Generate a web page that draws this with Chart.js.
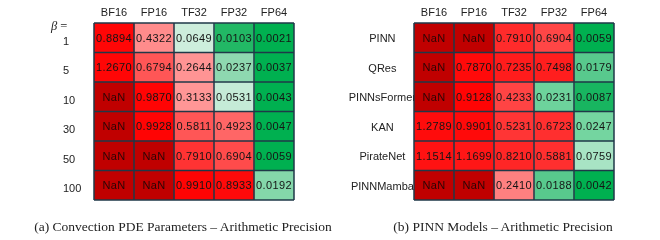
<!DOCTYPE html>
<html><head><meta charset="utf-8">
<script src="https://cdn.jsdelivr.net/npm/chart.js@4.4.0/dist/chart.umd.min.js"></script>
<style>
html,body{margin:0;padding:0;background:#fff;width:660px;height:240px;overflow:hidden}
#wrap{position:relative;width:660px;height:240px}
.panel{position:absolute;top:0;width:330px;height:240px}
.cap{position:absolute;top:218px;font-family:"Liberation Serif","Times New Roman",serif;font-size:13.5px;line-height:17px;color:#222;white-space:nowrap;transform:translateX(-50%)}
.beta{position:absolute;left:51px;top:18px;font-family:"Liberation Serif",serif;font-size:12.5px;line-height:16px;color:#222}
</style></head>
<body><div id="wrap">
<div class="panel" style="left:0"><canvas id="cA" width="330" height="240"></canvas></div>
<div class="panel" style="left:330px"><canvas id="cB" width="330" height="240"></canvas></div>
<div class="beta"><i>β</i> =</div>
<div class="cap" style="left:183px">(a) Convection PDE Parameters – Arithmetic Precision</div>
<div class="cap" style="left:503px">(b) PINN Models – Arithmetic Precision</div>
</div>
<script>
// ---- data ----
const precisions = ['BF16', 'FP16', 'TF32', 'FP32', 'FP64'];
const betaLabels = ['1', '5', '10', '30', '50', '100'];
const betaErrors = [
  [0.8894, 0.4322, 0.0649, 0.0103, 0.0021],
  [1.2670, 0.6794, 0.2644, 0.0237, 0.0037],
  [null,   0.9870, 0.3133, 0.0531, 0.0043],
  [null,   0.9928, 0.5811, 0.4923, 0.0047],
  [null,   null,   0.7910, 0.6904, 0.0059],
  [null,   null,   0.9910, 0.8933, 0.0192]
];
const modelLabels = ['PINN', 'QRes', 'PINNsFormer', 'KAN', 'PirateNet', 'PINNMamba'];
const modelErrors = [
  [null,   null,   0.7910, 0.6904, 0.0059],
  [null,   0.7870, 0.7235, 0.7498, 0.0179],
  [null,   0.9128, 0.4233, 0.0231, 0.0087],
  [1.2789, 0.9901, 0.5231, 0.6723, 0.0247],
  [1.1514, 1.1699, 0.8210, 0.5881, 0.0759],
  [null,   null,   0.2410, 0.0188, 0.0042]
];

// ---- styles (cell fill colours) ----
const NAN_RED = '#C00000';
const betaColors = [
  ['#FF0606', '#FF8C8C', '#CDEEDC', '#22B865', '#00B050'],
  ['#FF0606', '#FF5656', '#FF9494', '#8ED8B0', '#00B050'],
  [NAN_RED,   '#FF0404', '#FF9696', '#C5EBD7', '#00B050'],
  [NAN_RED,   '#FF0404', '#FF5656', '#FF6666', '#00B050'],
  [NAN_RED,   NAN_RED,   '#FF3333', '#FF4B4B', '#00B050'],
  [NAN_RED,   NAN_RED,   '#FF0404', '#FF0A0A', '#84D7AA']
];
const modelColors = [
  [NAN_RED,   NAN_RED,   '#FF2B2B', '#FF4646', '#00B050'],
  [NAN_RED,   '#FF0A0A', '#FF1C1C', '#FF1E1E', '#58C98D'],
  [NAN_RED,   '#FF0404', '#FF4444', '#6DD39C', '#18B560'],
  ['#FF0C0C', '#FF0A0A', '#FF3535', '#FF2F2F', '#74D5A0'],
  ['#FF1212', '#FF1616', '#FF2626', '#FF2F2F', '#A8E4C4'],
  [NAN_RED,   NAN_RED,   '#FF8080', '#58C98D', '#00B050']
];

const GRID = '#1F3848';
const SANS = '"Liberation Sans", Arial, sans-serif';

function makePanel(canvasId, rowLabels, values, colors, o) {
  const datasets = precisions.map((p, c) => ({
    label: p,
    data: rowLabels.map(() => 1),
    backgroundColor: rowLabels.map((_, r) => colors[r][c]),
    borderWidth: 0,
    barPercentage: 1,
    categoryPercentage: 1
  }));

  const cellPlugin = {
    id: 'cells',
    afterDatasetsDraw(chart) {
      const ctx = chart.ctx;
      const area = chart.chartArea;
      ctx.save();
      ctx.font = '11px ' + SANS;
      if ('letterSpacing' in ctx) ctx.letterSpacing = '0.4px';
      ctx.textAlign = 'center';
      ctx.textBaseline = 'middle';
      chart.data.datasets.forEach((ds, c) => {
        chart.getDatasetMeta(c).data.forEach((bar, r) => {
          const v = values[r][c];
          const cx = (bar.x + bar.base) / 2;
          ctx.fillStyle = v == null ? '#2A0505' : '#151515';
          ctx.fillText(v == null ? 'NaN' : v.toFixed(4), cx, bar.y + 1);
        });
      });
      if ('letterSpacing' in ctx) ctx.letterSpacing = '0px';
      // cell borders
      ctx.strokeStyle = GRID;
      ctx.lineWidth = 1.5;
      const xs = chart.scales.x;
      ctx.beginPath();
      for (let c = 0; c <= precisions.length; c++) {
        const px = xs.getPixelForValue(c);
        ctx.moveTo(px, area.top);
        ctx.lineTo(px, area.bottom);
      }
      const meta = chart.getDatasetMeta(0).data;
      ctx.moveTo(area.left, area.top);
      ctx.lineTo(area.right, area.top);
      meta.forEach(bar => {
        const py = bar.y + bar.height / 2;
        ctx.moveTo(area.left, py);
        ctx.lineTo(area.right, py);
      });
      ctx.stroke();
      ctx.restore();
    }
  };

  return new Chart(document.getElementById(canvasId), {
    type: 'bar',
    data: { labels: rowLabels, datasets },
    options: {
      indexAxis: 'y',
      responsive: false,
      animation: false,
      layout: { padding: { left: o.padLeft, right: o.padRight, top: 0, bottom: 40 } },
      plugins: { legend: { display: false }, tooltip: { enabled: false } },
      scales: {
        x: { type: 'linear', stacked: true, min: 0, max: precisions.length, display: false },
        x2: {
          type: 'category', labels: precisions, position: 'top', offset: true,
          grid: { display: false, drawTicks: false }, border: { display: false },
          ticks: { color: '#222', font: { family: SANS, size: 11 }, padding: 3, maxRotation: 0, autoSkip: false },
          afterFit: s => { s.height = 23; }
        },
        y: {
          type: 'category', stacked: true, position: 'left',
          grid: { display: false, drawTicks: false }, border: { display: false },
          ticks: { color: '#222', font: { family: SANS, size: 11 }, padding: o.tickPad,
                   crossAlign: o.crossAlign, labelOffset: o.labelOffset, autoSkip: false },
          afterFit: s => { s.width = o.axisW; }
        }
      }
    },
    plugins: [cellPlugin]
  });
}

makePanel('cA', betaLabels, betaErrors, betaColors,
  { padLeft: 63, padRight: 36, axisW: 31, crossAlign: 'far', labelOffset: 4, tickPad: 0 });
makePanel('cB', modelLabels, modelErrors, modelColors,
  { padLeft: 0, padRight: 46, axisW: 84, crossAlign: 'center', labelOffset: 1.5, tickPad: -2 });
</script>
</body></html>
